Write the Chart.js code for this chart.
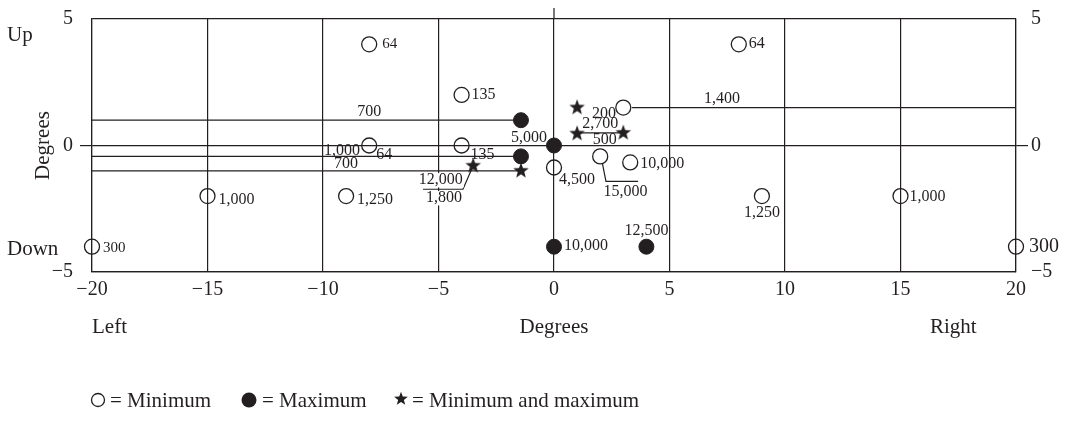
<!DOCTYPE html>
<html>
<head>
<meta charset="utf-8">
<script src="https://cdn.jsdelivr.net/npm/chart.js@4.4.1/dist/chart.umd.min.js"></script>
<style>
  html, body { margin: 0; padding: 0; background: #fff; }
  canvas { display: block; }
</style>
</head>
<body>
<canvas id="chart" width="1067" height="424"></canvas>
<script>
// Axis ticks
const xTicks = [-20, -15, -10, -5, 0, 5, 10, 15, 20];
const yTicks = [-5, 0, 5];

// Readings where only the minimum was recorded (open circles)
const minX = [-20, -15, -9, -8, -8, -4, -4, 0, 2, 3.3, 3, 8, 9, 15, 20];
const minY = [-4, -2, -2, 4, 0, 2, 0, -0.87, -0.43, -0.67, 1.5, 4, -2, -2, -4];
const minValues = ['300', '1,000', '1,250', '64', '64', '135', '135', '4,500', '', '10,000', '', '64', '1,250', '1,000', '300'];

// Readings where only the maximum was recorded (filled circles)
const maxX = [-1.43, 0, -1.43, 0, 4];
const maxY = [1, 0, -0.43, -4, -4];
const maxValues = ['', '5,000', '', '10,000', '12,500'];

// Readings where minimum and maximum coincide (stars)
const bothX = [-3.5, -1.43, 1, 1, 3];
const bothY = [-0.8, -1, 1.5, 0.47, 0.5];
const bothValues = ['', '', '200', '', ''];

// Horizontal link lines and their values
const rowLineX = [[-20, -1.43], [-20, -1.43], [-20, -1.43], [3.38, 20], [1, 3]];
const rowLineY = [1, -0.43, -1, 1.5, 0.5];
const rowLineValues = [['700'], ['1,000'], ['700'], ['1,400'], ['2,700', '500']];

// Leader lines to values set off from their marks
const leaderX = [[-3.5, -3.94, -5.67], [2.1, 2.25, 3.64]];
const leaderY = [[-0.8, -1.73, -1.73], [-0.73, -1.42, -1.42]];
const leaderValues = [['12,000', '1,800'], ['15,000']];

// ---- styling / placement ----
const INK = '#231f20';
const SERIF = '"Liberation Serif", "DejaVu Serif", serif';

// [dx px, dy px, align, font size]
const minLabelPlace = [
  [11, 1, 'left', 15], [11, 4, 'left', 16], [11, 4, 'left', 16], [13, 0, 'left', 15],
  [7, 9, 'left', 16], [10, 0, 'left', 16], [9, 9, 'left', 16], [5, 12, 'left', 16],
  null, [10, 1, 'left', 16], null, [10, -1, 'left', 16], [0, 17, 'center', 16],
  [9, 1, 'left', 16], [13, 0, 'left', 20]
];
const maxLabelPlace = [null, [-7, -8, 'right', 16], null, [10, -1, 'left', 16], [0, -16, 'center', 16]];
const bothLabelPlace = [null, null, [15, 6, 'left', 16], null, null];
// [x in data units, dy px from the line, align]
const rowLabelPlace = [
  [[-8, -8, 'center']], [[-8.4, -6, 'right']], [[-9, -7, 'center']],
  [[7.27, -9, 'center']], [[2.0, -9, 'center'], [2.2, 7, 'center']]
];
const leaderLabelPlace = [[[-4.9, -9], [-4.76, 9]], [[3.1, 10]]];

// Filled five-pointed star used as a point style
function makeStar(size, outer, inner) {
  const c = document.createElement('canvas');
  c.width = size; c.height = size;
  const g = c.getContext('2d');
  g.fillStyle = INK;
  g.beginPath();
  for (let i = 0; i < 10; i++) {
    const r = i % 2 === 0 ? outer : inner;
    const a = -Math.PI / 2 + i * Math.PI / 5;
    const px = size / 2 + r * Math.cos(a);
    const py = size / 2 + r * Math.sin(a);
    if (i === 0) g.moveTo(px, py); else g.lineTo(px, py);
  }
  g.closePath();
  g.fill();
  return c;
}
const starMark = makeStar(18, 8.2, 3.4);
const starLegend = makeStar(16, 7.2, 3);

const pts = (xs, ys) => xs.map((x, i) => ({ x, y: ys[i] }));
const minus = v => (v < 0 ? '\u2212' + Math.abs(v) : String(v));

const datasets = [
  {
    label: 'Minimum', data: pts(minX, minY), order: 1, clip: false,
    pointStyle: 'circle', pointRadius: 7.5, borderWidth: 1.3,
    borderColor: INK, backgroundColor: 'rgba(0,0,0,0)', showLine: false,
    values: minValues, place: minLabelPlace
  },
  {
    label: 'Maximum', data: pts(maxX, maxY), order: 1, clip: false,
    pointStyle: 'circle', pointRadius: 7.5, borderWidth: 1,
    borderColor: INK, backgroundColor: INK, showLine: false,
    values: maxValues, place: maxLabelPlace
  },
  {
    label: 'Minimum and maximum', data: pts(bothX, bothY), order: 1, clip: false,
    pointStyle: starMark, pointRadius: 8, showLine: false,
    borderColor: INK, backgroundColor: INK,
    values: bothValues, place: bothLabelPlace
  }
];
rowLineX.forEach((xs, i) => {
  datasets.push({
    type: 'line', data: xs.map(x => ({ x, y: rowLineY[i] })), order: 2,
    borderColor: INK, borderWidth: 1.2, pointRadius: 0, fill: false,
    lineValues: rowLineValues[i], linePlace: rowLabelPlace[i]
  });
});
leaderX.forEach((xs, i) => {
  datasets.push({
    type: 'line', data: pts(xs, leaderY[i]), order: 2,
    borderColor: INK, borderWidth: 1.2, pointRadius: 0, fill: false,
    leaderValues: leaderValues[i], leaderPlace: leaderLabelPlace[i]
  });
});

function drawText(ctx, txt, x, y, align, size, backing) {
  ctx.font = size + 'px ' + SERIF;
  ctx.textAlign = align;
  ctx.textBaseline = 'middle';
  if (backing) {
    const w = ctx.measureText(txt).width;
    const left = align === 'center' ? x - w / 2 : align === 'right' ? x - w : x;
    ctx.fillStyle = '#fff';
    ctx.fillRect(left - 1, y - size * 0.45, w + 2, size * 0.9);
  }
  ctx.fillStyle = INK;
  ctx.fillText(txt, x, y);
}

const notes = {
  id: 'notes',
  beforeDatasetsDraw(chart) {
    // zero meridian rises a little above the frame
    const { ctx, chartArea, scales } = chart;
    const x0 = scales.x.getPixelForValue(0);
    ctx.save();
    ctx.strokeStyle = INK; ctx.lineWidth = 1.2;
    ctx.beginPath();
    ctx.moveTo(x0, chartArea.top - 11);
    ctx.lineTo(x0, chartArea.top);
    ctx.stroke();
    ctx.restore();
  },
  afterDatasetsDraw(chart) {
    const { ctx, scales } = chart;
    const sx = scales.x, sy = scales.y;
    ctx.save();
    chart.data.datasets.forEach((ds) => {
      if (ds.values) {
        ds.data.forEach((p, i) => {
          const pl = ds.place[i];
          if (!pl || !ds.values[i]) return;
          drawText(ctx, ds.values[i], sx.getPixelForValue(p.x) + pl[0], sy.getPixelForValue(p.y) + pl[1], pl[2], pl[3]);
        });
      }
      if (ds.lineValues) {
        const yy = sy.getPixelForValue(ds.data[0].y);
        ds.lineValues.forEach((t, k) => {
          const pl = ds.linePlace[k];
          drawText(ctx, t, sx.getPixelForValue(pl[0]), yy + pl[1], pl[2], 16);
        });
      }
      if (ds.leaderValues) {
        const yy = sy.getPixelForValue(ds.data[ds.data.length - 1].y);
        ds.leaderValues.forEach((t, k) => {
          const pl = ds.leaderPlace[k];
          drawText(ctx, t, sx.getPixelForValue(pl[0]), yy + pl[1], 'center', 16, true);
        });
      }
    });
    ctx.restore();
  },
  afterDraw(chart) {
    const { ctx, scales, chartArea } = chart;
    ctx.save();
    ctx.fillStyle = INK;
    ctx.font = '21px ' + SERIF;
    ctx.textBaseline = 'alphabetic';
    ctx.textAlign = 'left';
    ctx.fillText('Up', 7, 41);
    ctx.fillText('Down', 7, 255);
    ctx.fillText('Left', chartArea.left, 333);
    ctx.textAlign = 'center';
    ctx.fillText('Degrees', scales.x.getPixelForValue(0), 333);
    ctx.textAlign = 'left';
    ctx.fillText('Right', 930, 333);
    // vertical axis title
    ctx.save();
    ctx.translate(49, (chartArea.top + chartArea.bottom) / 2);
    ctx.rotate(-Math.PI / 2);
    ctx.textAlign = 'center';
    ctx.fillText('Degrees', 0, 0);
    ctx.restore();

    // key
    const ky = 400;
    ctx.lineWidth = 1.3;
    ctx.strokeStyle = INK;
    ctx.beginPath(); ctx.arc(98, ky, 6.5, 0, Math.PI * 2); ctx.stroke();
    ctx.textBaseline = 'middle';
    ctx.textAlign = 'left';
    ctx.font = '21px ' + SERIF;
    ctx.fillText('= Minimum', 110, ky + 1);
    ctx.beginPath(); ctx.arc(249, ky, 7.5, 0, Math.PI * 2); ctx.fill();
    ctx.fillText('= Maximum', 262, ky + 1);
    ctx.drawImage(starLegend, 401 - 8, ky - 9);
    ctx.fillText('= Minimum and maximum', 412, ky + 1);
    ctx.restore();
  }
};

const tickFont = { family: SERIF, size: 20 };

new Chart(document.getElementById('chart'), {
  type: 'scatter',
  data: { datasets },
  plugins: [notes],
  options: {
    responsive: false,
    devicePixelRatio: 1,
    animation: false,
    events: [],
    layout: { padding: { top: 18, left: 0, right: 0, bottom: 0 } },
    plugins: { legend: { display: false }, tooltip: { enabled: false } },
    scales: {
      x: {
        type: 'linear', min: -20, max: 20,
        afterBuildTicks: s => { s.ticks = xTicks.map(v => ({ value: v })); },
        afterFit: s => { s.height = 152; },
        ticks: { callback: minus, font: tickFont, color: INK, padding: 6, maxRotation: 0 },
        grid: { color: INK, lineWidth: 1.2, drawTicks: false },
        border: { display: true, color: INK, width: 1.2 }
      },
      y: {
        type: 'linear', position: 'left', min: -5, max: 5,
        afterBuildTicks: s => { s.ticks = yTicks.map(v => ({ value: v })); },
        afterFit: s => { s.width = 92; },
        ticks: { callback: minus, font: tickFont, color: INK, padding: 7 },
        grid: {
          color: INK, lineWidth: 1.2, tickLength: 12,
          tickColor: c => (c.tick && c.tick.value === 0 ? INK : 'rgba(0,0,0,0)')
        },
        border: { display: true, color: INK, width: 1.2 }
      },
      y2: {
        type: 'linear', position: 'right', min: -5, max: 5,
        afterBuildTicks: s => { s.ticks = yTicks.map(v => ({ value: v })); },
        afterFit: s => { s.width = 51; },
        ticks: { callback: minus, font: tickFont, color: INK, padding: 3 },
        grid: {
          drawOnChartArea: false, lineWidth: 1.2, tickLength: 12,
          tickColor: c => (c.tick && c.tick.value === 0 ? INK : 'rgba(0,0,0,0)')
        },
        border: { display: true, color: INK, width: 1.2 }
      }
    }
  }
});
</script>
</body>
</html>
